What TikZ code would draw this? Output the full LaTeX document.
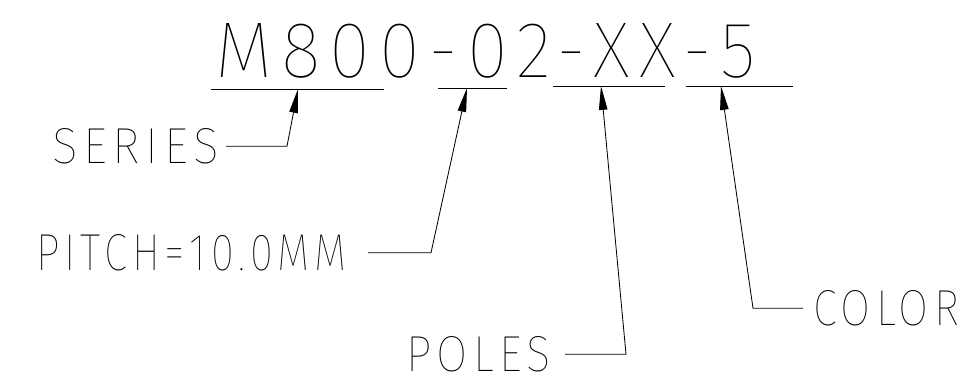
\documentclass[tikz,border=0pt]{standalone}
\usepackage{fontspec}
\usepackage{graphicx}
\usetikzlibrary{arrows.meta}
\newfontfamily\cadfont{Fira Sans Thin}[LetterSpace=12]
\newlength\pxu
\setlength\pxu{0.025cm}
\newcommand\cadtext[3]{\resizebox{#1\pxu}{#2\pxu}{\cadfont #3}}

\begin{document}
\begin{tikzpicture}[x=0.025cm,y=-0.025cm,
    cadlabel/.style={inner sep=0pt, outer sep=0pt, anchor=south west},
    lead/.style={line width=0.6pt, -{Triangle[length=17pt,width=6pt]}},
    uline/.style={line width=0.6pt}]
  \useasboundingbox (0,0) rectangle (973,378);

  % Part number
  \node[cadlabel] (code) at (215,78) {\cadtext{541}{54}{M800-02-XX-5}};

  % Underlines of the fields
  \draw[uline] (211,89) -- (384,89);
  \draw[uline] (438,88) -- (507,88);
  \draw[uline] (553,86) -- (665,86);
  \draw[uline] (686,86) -- (793,86);

  % Arrow tips and bends
  \coordinate (t1) at (298,89);
  \coordinate (t2) at (467,88);
  \coordinate (t3) at (601,86);
  \coordinate (t4) at (721,86);
  \coordinate (b1) at (287,148);
  \coordinate (b2) at (431,252);
  \coordinate (b3) at (626,353);
  \coordinate (b4) at (753,311);

  % Field names
  \node[cadlabel] (series) at (52,164) {\cadtext{167}{35}{SERIES}};
  \node[cadlabel] (pitch) at (36,271) {\cadtext{311}{36}{PITCH=10.0MM}};
  \node[cadlabel] (poles) at (406,372) {\cadtext{145}{35}{POLES}};
  \node[cadlabel] (color) at (813,326) {\cadtext{146}{35}{COLOR}};

  % Leaders
  \draw[lead] ([xshift=5pt]series.east) -- (series.east -| b1) -- (t1);
  \draw[lead] ([xshift=15pt]pitch.east) -- (pitch.east -| b2) -- (t2);
  \draw[lead] ([xshift=10pt]poles.east) -- (poles.east -| b3) -- (t3);
  \draw[lead] ([xshift=-7pt]color.west) -- (color.west -| b4) -- (t4);
\end{tikzpicture}
\end{document}
